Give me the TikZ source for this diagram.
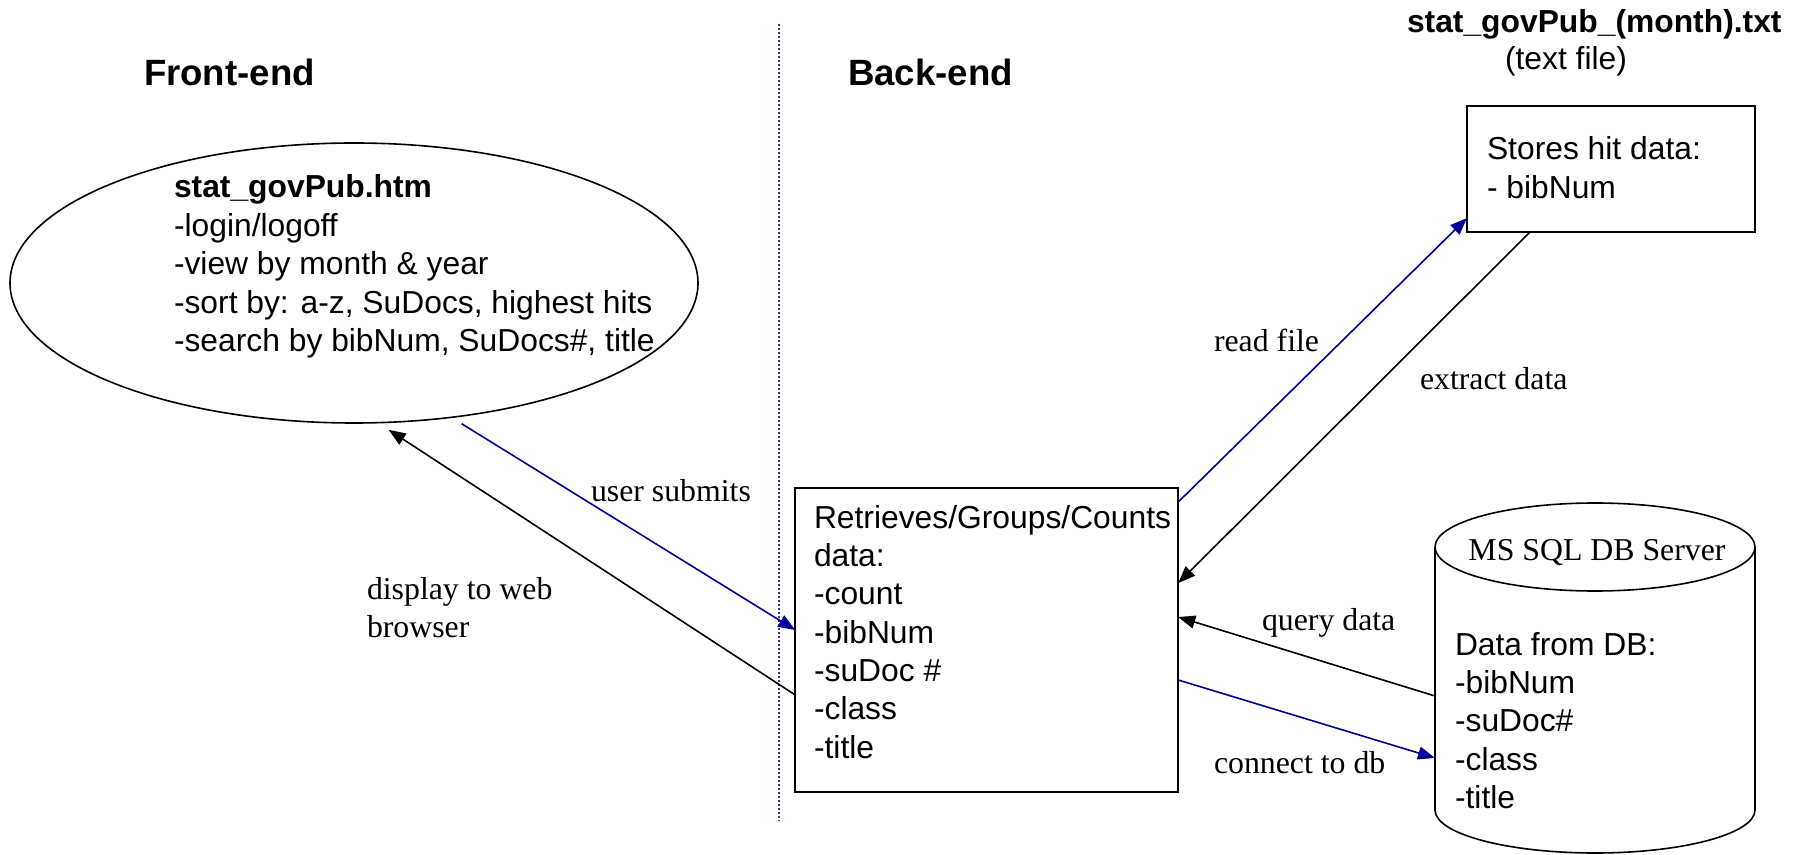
\documentclass[tikz,border=0pt]{standalone}
\usepackage{fontspec}
\setmainfont{Liberation Serif}
\newfontfamily\sansf{Liberation Sans}
\usetikzlibrary{arrows.meta,shapes.geometric}
\definecolor{navyarrow}{RGB}{0,0,150}
\definecolor{dotline}{RGB}{51,51,153}
\tikzset{
  bodytext/.style={inner sep=0pt, outer sep=0pt, anchor=base west, font=\sansf\fontsize{15.9}{19.2}\selectfont},
  headtext/.style={inner sep=0pt, outer sep=0pt, anchor=base west, font=\sansf\bfseries\fontsize{18.3}{22}\selectfont},
  lbltext/.style={inner sep=0pt, outer sep=0pt, anchor=base west, font=\rmfamily\fontsize{15.9}{19.2}\selectfont},
  boxshape/.style={draw, line width=1pt, inner sep=0pt, outer sep=0pt},
  ellshape/.style={draw, ellipse, line width=0.8pt, inner sep=0pt, outer sep=0pt},
  blackarrow/.style={draw=black, line width=0.8pt, -{Triangle[length=8.5pt,width=6.5pt]}},
  bluearrow/.style={draw=navyarrow, line width=0.8pt, -{Triangle[length=8.5pt,width=6.5pt]}, fill=navyarrow},
  divider/.style={draw=dotline, line width=0.8pt, dash pattern=on 1pt off 1pt}
}
\begin{document}
\begin{tikzpicture}[x=0.5pt,y=-0.5pt]
\useasboundingbox (0,0) rectangle (1799,855);

% headings
\node[headtext] (fronthead) at (144,86) {Front-end};
\node[headtext] (backhead) at (848,86) {Back-end};
\node[bodytext, font=\sansf\bfseries\fontsize{15.9}{19.2}\selectfont] (filehead) at (1407,33) {stat\_govPub\_(month).txt};
\node[bodytext] (filesub) at (1505,70) {(text file)};

% divider
\coordinate (divtop) at (779,24);
\coordinate (divbot) at (779,821);
\draw[divider] (divtop) -- (divbot);

% front-end ellipse
\node[ellshape, minimum width=344pt, minimum height=140pt] (fe) at (354,283) {};
\node[bodytext] (fetext) at (174,198) {\begin{tabular}[t]{@{}l@{}}\textbf{stat\_govPub.htm}\\-login/logoff\\-view by month \& year\\-sort by: a-z, SuDocs, highest hits\\-search by bibNum, SuDocs\#, title\end{tabular}};

% retrieves box
\node[boxshape, minimum width=191.5pt, minimum height=152pt] (rb) at (986.75,640) {};
\node[bodytext] (rbtext) at (814,528) {\begin{tabular}[t]{@{}l@{}}Retrieves/Groups/Counts\\data:\\-count\\-bibNum\\-suDoc \#\\-class\\-title\end{tabular}};

% stores box
\node[boxshape, minimum width=144pt, minimum height=63pt] (sb) at (1611,169) {};
\node[bodytext] (sbtext) at (1487,160) {\begin{tabular}[t]{@{}l@{}}Stores hit data:\\- bibNum\end{tabular}};

% database cylinder
\node[inner sep=0pt, outer sep=0pt, minimum width=160pt, minimum height=175pt] (db) at (1595,678) {};
\draw[line width=0.8pt] (db.north west |- 0,547) -- (1435,810) arc[start angle=180, end angle=360, x radius=80pt, y radius=21.5pt] -- (1755,547);
\draw[line width=0.8pt] (1595,547) ellipse [x radius=80pt, y radius=22pt];
\node[lbltext, anchor=base] (dbtitle) at (1597,560) {MS SQL DB Server};
\node[bodytext] (dbtext) at (1455,655) {\begin{tabular}[t]{@{}l@{}}Data from DB:\\-bibNum\\-suDoc\#\\-class\\-title\end{tabular}};

% connectors
\draw[bluearrow] ([yshift=-3.9pt]fe.-51.5) -- ([yshift=5pt]rb.west);
\draw[blackarrow] ([yshift=-27.5pt]rb.west) -- ([yshift=-3.8pt]fe.-76.7);
\draw[bluearrow] ([yshift=69pt]rb.east) -- ([yshift=-24.5pt]sb.west);
\draw[blackarrow] ([xshift=-40.5pt]sb.south) -- ([yshift=28.5pt]rb.east);
\draw[blackarrow] ([yshift=-9pt]db.west) -- ([yshift=11.5pt]rb.east);
\draw[bluearrow] ([yshift=-20pt]rb.east) -- ([yshift=-40pt]db.west);

% connector labels
\node[lbltext] (lblsubmit) at (591,502) {user submits};
\node[lbltext] (lbldisplay) at (367,599) {\begin{tabular}[t]{@{}l@{}}display to web\\browser\end{tabular}};
\node[lbltext] (lblread) at (1214,352) {read file};
\node[lbltext] (lblextract) at (1420,390) {extract data};
\node[lbltext] (lblquery) at (1262,630) {query data};
\node[lbltext] (lblconnect) at (1214,773) {connect to db};
\end{tikzpicture}
\end{document}
